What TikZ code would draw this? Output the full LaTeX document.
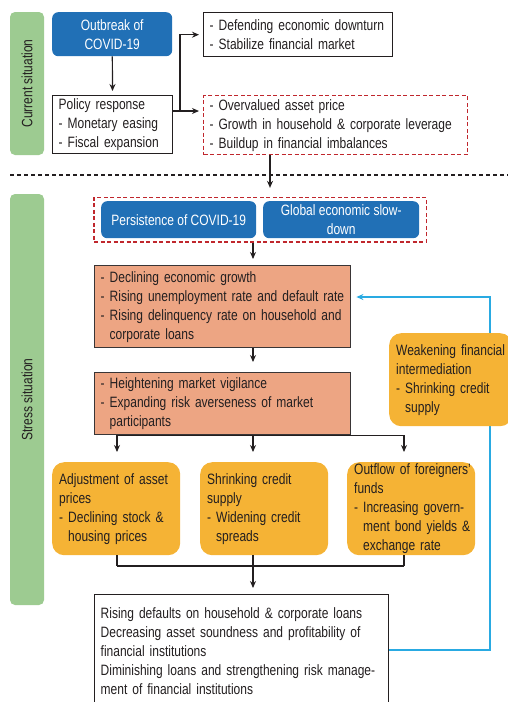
\documentclass[tikz,border=0pt]{standalone}
\usepackage{fontspec}
\setmainfont{Liberation Sans}[FakeStretch=0.80]
\usetikzlibrary{arrows.meta,positioning,calc,fit}
\definecolor{ink}{HTML}{231F20}
\definecolor{sidegreen}{HTML}{9DCB91}
\definecolor{covidblue}{HTML}{2170B6}
\definecolor{riskred}{HTML}{C0272D}
\definecolor{salmon}{HTML}{EDA583}
\definecolor{amber}{HTML}{F5B335}
\definecolor{loopblue}{HTML}{29AAE2}
\newcommand{\diagfont}{\fontsize{15}{19}\selectfont}
\newcommand{\ind}{\hphantom{- }}
\tikzset{
  sidebar/.style={fill=sidegreen, rounded corners=5pt, rotate=90, minimum height=34pt,
                  inner sep=0pt, font=\diagfont, text=ink},
  causebox/.style={fill=covidblue, rounded corners=6pt, align=center, inner sep=2pt,
                   font=\diagfont, text=white},
  plainbox/.style={draw=ink, fill=white, line width=1.4pt, align=left, inner xsep=6pt,
                   inner ysep=2pt, font=\diagfont, text=ink, anchor=north west},
  riskbox/.style={draw=riskred, line width=1.3pt, dash pattern=on 4pt off 2.5pt},
  shockbox/.style={plainbox, fill=salmon, draw=ink!90},
  channelbox/.style={fill=amber, rounded corners=12pt, align=left, inner xsep=7pt,
                     inner ysep=0pt, font=\diagfont, text=ink, anchor=north west},
  arr/.style={-{Stealth[length=7pt,width=6pt]}, line width=1.2pt, draw=ink, shorten >=4pt},
  link/.style={line width=1.2pt, draw=ink},
  feedback/.style={-{Stealth[length=7pt,width=6pt]}, line width=1.5pt, draw=loopblue, shorten >=5pt},
  divider/.style={line width=1.2pt, draw=ink, dash pattern=on 4pt off 3pt}
}
\begin{document}
\begin{tikzpicture}[x=1pt,y=-1pt]
  \useasboundingbox (0,0) rectangle (508,702);

  \node[sidebar, minimum width=143pt] (cursit) at (27,83.5) {Current situation};
  \node[sidebar, minimum width=411pt] (strsit) at (27,399.5) {Stress situation};

  \node[causebox, anchor=north west, minimum width=120pt, minimum height=44pt] (outbreak) at (52,12) {Outbreak of\\COVID-19};
  \node[plainbox, minimum width=120pt, minimum height=58pt, text width=108pt] (policy) at (52,95) {Policy response\\- Monetary easing\\- Fiscal expansion};
  \node[plainbox, minimum width=189pt, minimum height=44pt, text width=177pt] (defend) at (203,12) {\mbox{- Defending economic downturn}\\- Stabilize financial market};
  \node[plainbox, riskbox, minimum width=264pt, minimum height=59pt, text width=252pt] (overval) at (203,95) {- Overvalued asset price\\\mbox{- Growth in household \& corporate leverage}\\- Buildup in financial imbalances};

  \coordinate (fork) at (180,111);
  \coordinate (drop) at (270,0);
  \coordinate (spine) at (253,0);
  \coordinate (colL) at (117,0);
  \coordinate (colR) at (404,0);

  \draw[arr] (outbreak) -- (policy);
  \draw[arr] (policy.east |- fork) -- (overval.west |- fork);
  \draw[arr] (fork) |- (defend.west);

  \draw[divider] (10,175) -- (508,175);

  \node[causebox, anchor=north west, minimum width=155pt, minimum height=37pt] (persist) at (101,201) {Persistence of COVID-19};
  \node[causebox, anchor=north west, minimum width=156pt, minimum height=37pt] (slowdown) at (263,201) {Global economic slow-\\down};
  \node[riskbox, fit=(persist)(slowdown), inner xsep=7pt, inner ysep=3.5pt] (group) {};
  \draw[arr, shorten >=9pt] (overval.south -| drop) -- (group.north -| drop);

  \node[shockbox, minimum width=256pt, minimum height=82pt, text width=244pt] (decline) at (94,265) {- Declining economic growth\\\mbox{- Rising unemployment rate and default rate}\\\mbox{- Rising delinquency rate on household and}\\\ind corporate loans};
  \node[shockbox, minimum width=256pt, minimum height=62pt, text width=244pt] (vigil) at (94,372) {- Heightening market vigilance\\\mbox{- Expanding risk averseness of market}\\\ind participants};
  \draw[arr, shorten >=6pt] (group.south -| spine) -- (decline.north -| spine);
  \draw[arr, shorten >=10pt] (decline.south -| spine) -- (vigil.north -| spine);

  \node[channelbox, minimum width=128pt, minimum height=93pt, text width=114pt] (asset) at (52,462) {\mbox{Adjustment of asset}\\prices\\\mbox{- Declining stock \&}\\\ind housing prices};
  \node[channelbox, minimum width=128pt, minimum height=93pt, text width=114pt] (credit) at (200,462) {Shrinking credit\\supply\\- Widening credit\\\ind spreads};
  \node[channelbox, minimum width=128pt, minimum height=93pt, text width=114pt] (outflow) at (347,462) {\mbox{Outflow of foreigners'}\\funds\\\mbox{- Increasing govern-}\\\mbox{\ind ment bond yields \&}\\\ind exchange rate};

  \draw[link] (vigil.south -| colL) -- (vigil.south -| colR);
  \foreach \c/\t in {colL/asset,spine/credit,colR/outflow} {
    \draw[arr, shorten >=10pt] (vigil.south -| \c) -- (\t.north -| \c);
  }

  \node[plainbox, minimum width=294pt, minimum height=112pt, text width=282pt] (result) at (94,594) {\mbox{Rising defaults on household \& corporate loans}\\\mbox{Decreasing asset soundness and profitability of}\\financial institutions\\\mbox{Diminishing loans and strengthening risk manage-}\\ment of financial institutions};

  \coordinate (merge) at (253,566);
  \foreach \c/\t in {colL/asset,spine/credit,colR/outflow} {
    \draw[link] (\t.south -| \c) -- (merge -| \c);
  }
  \draw[link] (merge -| colL) -- (merge -| colR);
  \draw[arr, shorten >=6pt] (merge) -- (result.north -| merge);

  \coordinate (loopbot) at (490,650);
  \coordinate (looptop) at (490,297);
  \draw[feedback] (result.east |- loopbot) -- (loopbot) -- (looptop) -- (decline.east |- looptop);

  \node[channelbox, minimum width=123pt, minimum height=93pt, text width=109pt] (weaken) at (389,333) {\mbox{Weakening financial}\\intermediation\\\mbox{- Shrinking credit}\\\ind supply};
\end{tikzpicture}
\end{document}
